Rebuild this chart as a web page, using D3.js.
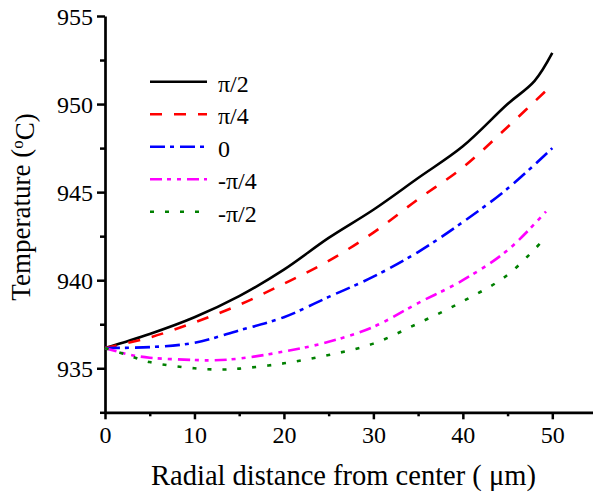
<!DOCTYPE html>
<html>
<head>
<meta charset="utf-8">
<script src="https://d3js.org/d3.v7.min.js"></script>
<title>Temperature vs radial distance</title>
<style>
  body { margin: 0; background: #fff; }
  svg text { font-family: "Liberation Serif", "Times New Roman", Times, "DejaVu Serif", serif; fill: #000; }
</style>
</head>
<body>
<div id="chart"></div>
<script>
// series labels (angle) and values
let labels = ["π/2", "π/4", "0", "-π/4", "-π/2"];
let colors = ["#000000", "#ff0000", "#0000ff", "#ff00ff", "#008000"];
let dashes = ["none", "12,12", "15,5,4,6", "12,5,4,6,4,6", "4,11"];

let rHalfPi = [0, 5, 10, 15, 20, 25, 30, 35, 40, 45, 48, 50];
let tHalfPi = [936.15, 936.95, 937.9, 939.1, 940.6, 942.4, 944.0, 945.8, 947.6, 950.0, 951.3, 952.9];

let rQuarterPi = [0, 5, 10, 15, 20, 25, 30, 35, 40, 45, 50];
let tQuarterPi = [936.15, 936.75, 937.6, 938.6, 939.8, 941.1, 942.7, 944.6, 946.4, 948.7, 951.1];

let rZero = [0, 5, 10, 15, 20, 25, 30, 35, 40, 45, 50];
let tZero = [936.15, 936.2, 936.45, 937.15, 937.9, 939.05, 940.2, 941.6, 943.3, 945.2, 947.5];

let rNegQuarterPi = [0, 2.5, 5, 10, 12, 15, 20, 25, 30, 35, 40, 45, 49.3];
let tNegQuarterPi = [936.15, 935.8, 935.6, 935.47, 935.45, 935.55, 935.95, 936.5, 937.35, 938.7, 940.0, 941.7, 943.9];

let rNegHalfPi = [0, 2.5, 5, 10, 13, 15, 20, 25, 30, 35, 40, 45, 49.2];
let tNegHalfPi = [936.15, 935.75, 935.35, 935.0, 934.93, 934.98, 935.28, 935.75, 936.4, 937.55, 938.8, 940.3, 942.4];

let xMajor = [0, 10, 20, 30, 40, 50];
let xMinor = [5, 15, 25, 35, 45];
let yMajor = [935, 940, 945, 950, 955];
let yMinor = [932.5, 937.5, 942.5, 947.5, 952.5];

let serifFont = "'Liberation Serif', 'Times New Roman', Times, 'DejaVu Serif', serif";

let series = [
  [rHalfPi, tHalfPi],
  [rQuarterPi, tQuarterPi],
  [rZero, tZero],
  [rNegQuarterPi, tNegQuarterPi],
  [rNegHalfPi, tNegHalfPi]
].map((s, i) => ({
  label: labels[i],
  color: colors[i],
  dash: dashes[i],
  points: s[0].map((r, j) => ({ r: r, t: s[1][j] }))
}));

let width = 593, height = 493;

let svg = d3.select("#chart")
  .append("svg")
  .attr("width", width)
  .attr("height", height)
  .attr("font-family", serifFont);

let x = d3.scaleLinear().domain([0, 55]).range([105, 105 + 55 * 8.946]);
let y = d3.scaleLinear().domain([932.5, 955]).range([412.3, 16]);

// x axis: major + minor ticks
let xAxis = svg.append("g").attr("transform", "translate(0,412.3)");
xAxis.call(d3.axisBottom(x).tickValues(xMajor).tickSize(7).tickSizeOuter(0).tickFormat(d3.format("d")));
xAxis.append("g").call(d3.axisBottom(x).tickValues(xMinor).tickSize(4).tickSizeOuter(0).tickFormat(""))
  .select(".domain").remove();

let yAxis = svg.append("g").attr("transform", "translate(105,0)");
yAxis.call(d3.axisLeft(y).tickValues(yMajor).tickSize(8).tickSizeOuter(0).tickFormat(d3.format("d")));
yAxis.append("g").call(d3.axisLeft(y).tickValues(yMinor).tickSize(5).tickSizeOuter(0).tickFormat(""))
  .select(".domain").remove();

// d3 axes put a sans-serif font on their groups; override it
svg.selectAll("g").attr("font-family", serifFont);
svg.selectAll(".domain").attr("stroke-width", 2.7);
svg.selectAll(".tick line").attr("stroke-width", 2.5);
svg.selectAll(".tick text")
  .style("font-family", serifFont)
  .style("font-size", "24px");
xAxis.selectAll(".tick text").attr("dy", "0").attr("y", 31);
yAxis.selectAll(".tick text").attr("x", -12).attr("dy", "0.34em");

// curves
let line = d3.line()
  .x(d => x(d.r))
  .y(d => y(d.t))
  .curve(d3.curveCatmullRom.alpha(0.5));

svg.append("g").selectAll("path")
  .data(series)
  .enter()
  .append("path")
  .attr("d", d => line(d.points))
  .attr("fill", "none")
  .attr("stroke", d => d.color)
  .attr("stroke-width", 2.6)
  .attr("stroke-dasharray", d => d.dash);

// legend
let legend = svg.append("g");
let legendY = d3.scaleLinear().domain([0, 4]).range([81.7, 211.7]);
series.forEach((s, i) => {
  legend.append("line")
    .attr("x1", 150).attr("x2", 207)
    .attr("y1", legendY(i)).attr("y2", legendY(i))
    .attr("stroke", s.color)
    .attr("stroke-width", 2.6)
    .attr("stroke-dasharray", s.dash);
  legend.append("text")
    .attr("x", 218)
    .attr("y", legendY(i) + 10)
    .style("font-family", serifFont)
    .style("font-size", "24px")
    .text(s.label);
});

// axis titles
svg.append("text")
  .attr("x", 343.5)
  .attr("y", 485)
  .attr("text-anchor", "middle")
  .style("font-family", serifFont)
  .style("font-size", "28.5px")
  .text("Radial distance from center ( μm)");

let yt = svg.append("text")
  .attr("transform", "translate(30,207) rotate(-90)")
  .attr("text-anchor", "middle")
  .style("font-family", serifFont)
  .style("font-size", "27px");
yt.append("tspan").text("Temperature (");
yt.append("tspan").attr("dy", "-0.4em").style("font-size", "17px").text("o");
yt.append("tspan").attr("dy", "0.4em").text("C)");
</script>
</body>
</html>
